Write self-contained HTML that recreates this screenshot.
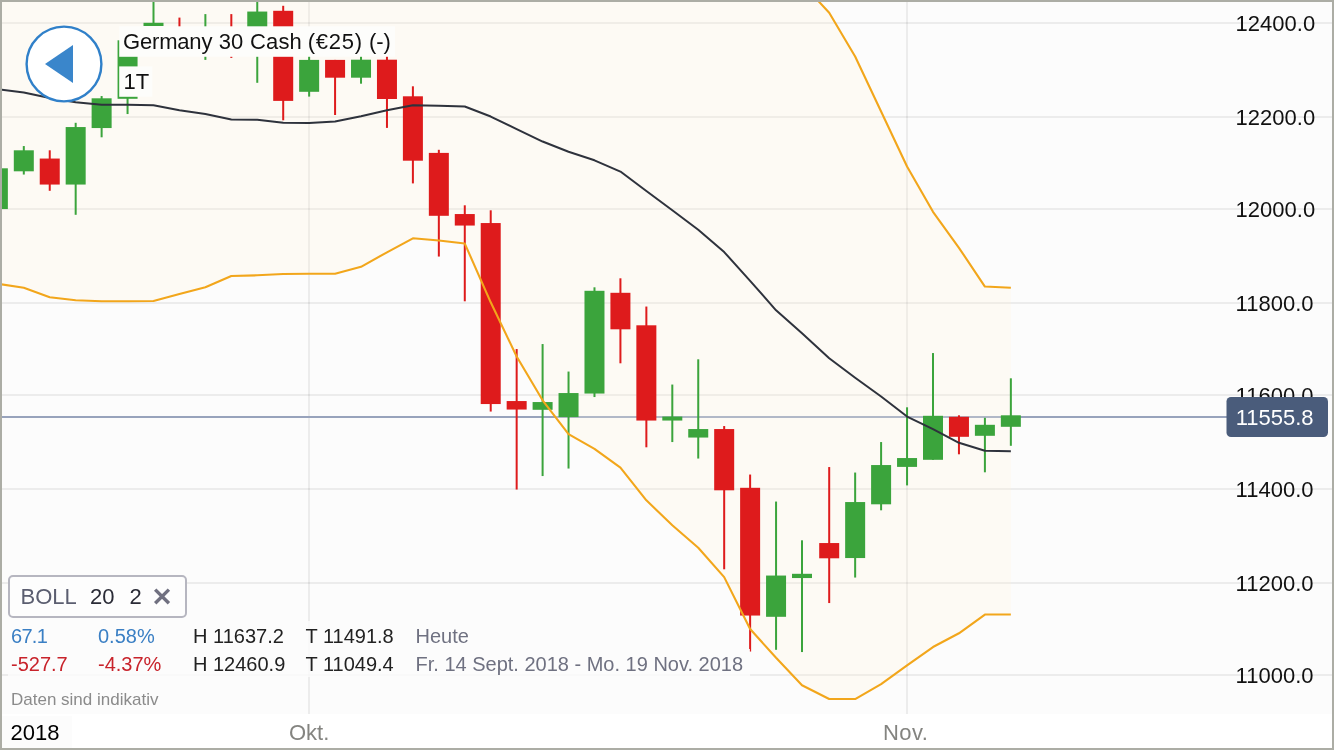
<!DOCTYPE html>
<html lang="de">
<head>
<meta charset="utf-8">
<title>Germany 30 Cash Chart</title>
<style>
html,body{margin:0;padding:0;background:#fff;}
body{width:1334px;height:750px;overflow:hidden;position:relative;font-family:"Liberation Sans",Arial,Helvetica,sans-serif;}
svg text{white-space:pre;}
</style>
</head>
<body>
<svg width="1334" height="750" viewBox="0 0 1334 750" style="position:absolute;left:0;top:0">
<rect x="0" y="0" width="1334" height="714" fill="#fcfcfc"/>
<rect x="0" y="714" width="1334" height="36" fill="#ffffff"/>
<clipPath id="plot"><rect x="0" y="0" width="1334" height="714"/></clipPath>
<g clip-path="url(#plot)">
<polygon points="-2.14,-59.70 23.80,-59.70 49.74,-59.70 75.68,-59.70 101.62,-59.70 127.56,-59.70 153.50,-59.70 179.44,-59.70 205.38,-59.70 231.32,-59.70 257.26,-59.70 283.20,-59.70 309.14,-59.70 335.08,-59.70 361.02,-59.70 386.96,-59.70 412.90,-59.70 438.84,-59.70 464.78,-59.70 490.72,-59.70 516.66,-59.70 542.60,-59.70 568.54,-59.70 594.48,-59.70 620.42,-59.70 646.36,-59.70 672.30,-59.70 698.24,-59.70 724.18,-59.70 750.12,-59.70 776.06,-59.70 802.00,-16.70 829.20,12.80 855.15,56.55 881.10,111.55 907.05,166.55 933.00,211.80 958.95,247.80 984.90,286.55 1010.85,287.80 1010.85,614.55 984.90,614.55 958.95,633.30 933.00,647.05 907.05,665.30 881.10,684.05 855.15,699.05 829.20,699.05 802.00,685.30 776.06,657.80 750.12,629.05 724.18,577.15 698.24,547.80 672.30,525.30 646.36,500.30 620.42,467.55 594.48,448.80 568.54,434.05 542.60,400.30 516.66,356.55 490.72,302.30 464.78,243.55 438.84,240.55 412.90,238.30 386.96,252.30 361.02,266.80 335.08,273.80 309.14,273.80 283.20,274.05 257.26,275.30 231.32,276.05 205.38,287.30 179.44,294.05 153.50,301.05 127.56,301.30 101.62,301.30 75.68,300.30 49.74,297.30 23.80,287.80 -2.14,283.80" fill="#fdfaf4"/>
<clipPath id="outband"><path clip-rule="evenodd" d="M-100 -100H1500V900H-100Z M-2.14,-59.70 L23.80,-59.70 L49.74,-59.70 L75.68,-59.70 L101.62,-59.70 L127.56,-59.70 L153.50,-59.70 L179.44,-59.70 L205.38,-59.70 L231.32,-59.70 L257.26,-59.70 L283.20,-59.70 L309.14,-59.70 L335.08,-59.70 L361.02,-59.70 L386.96,-59.70 L412.90,-59.70 L438.84,-59.70 L464.78,-59.70 L490.72,-59.70 L516.66,-59.70 L542.60,-59.70 L568.54,-59.70 L594.48,-59.70 L620.42,-59.70 L646.36,-59.70 L672.30,-59.70 L698.24,-59.70 L724.18,-59.70 L750.12,-59.70 L776.06,-59.70 L802.00,-16.70 L829.20,12.80 L855.15,56.55 L881.10,111.55 L907.05,166.55 L933.00,211.80 L958.95,247.80 L984.90,286.55 L1010.85,287.80 L1010.85,614.55 L984.90,614.55 L958.95,633.30 L933.00,647.05 L907.05,665.30 L881.10,684.05 L855.15,699.05 L829.20,699.05 L802.00,685.30 L776.06,657.80 L750.12,629.05 L724.18,577.15 L698.24,547.80 L672.30,525.30 L646.36,500.30 L620.42,467.55 L594.48,448.80 L568.54,434.05 L542.60,400.30 L516.66,356.55 L490.72,302.30 L464.78,243.55 L438.84,240.55 L412.90,238.30 L386.96,252.30 L361.02,266.80 L335.08,273.80 L309.14,273.80 L283.20,274.05 L257.26,275.30 L231.32,276.05 L205.38,287.30 L179.44,294.05 L153.50,301.05 L127.56,301.30 L101.62,301.30 L75.68,300.30 L49.74,297.30 L23.80,287.80 L-2.14,283.80Z"/></clipPath>
<clipPath id="inband"><polygon points="-2.14,-59.70 23.80,-59.70 49.74,-59.70 75.68,-59.70 101.62,-59.70 127.56,-59.70 153.50,-59.70 179.44,-59.70 205.38,-59.70 231.32,-59.70 257.26,-59.70 283.20,-59.70 309.14,-59.70 335.08,-59.70 361.02,-59.70 386.96,-59.70 412.90,-59.70 438.84,-59.70 464.78,-59.70 490.72,-59.70 516.66,-59.70 542.60,-59.70 568.54,-59.70 594.48,-59.70 620.42,-59.70 646.36,-59.70 672.30,-59.70 698.24,-59.70 724.18,-59.70 750.12,-59.70 776.06,-59.70 802.00,-16.70 829.20,12.80 855.15,56.55 881.10,111.55 907.05,166.55 933.00,211.80 958.95,247.80 984.90,286.55 1010.85,287.80 1010.85,614.55 984.90,614.55 958.95,633.30 933.00,647.05 907.05,665.30 881.10,684.05 855.15,699.05 829.20,699.05 802.00,685.30 776.06,657.80 750.12,629.05 724.18,577.15 698.24,547.80 672.30,525.30 646.36,500.30 620.42,467.55 594.48,448.80 568.54,434.05 542.60,400.30 516.66,356.55 490.72,302.30 464.78,243.55 438.84,240.55 412.90,238.30 386.96,252.30 361.02,266.80 335.08,273.80 309.14,273.80 283.20,274.05 257.26,275.30 231.32,276.05 205.38,287.30 179.44,294.05 153.50,301.05 127.56,301.30 101.62,301.30 75.68,300.30 49.74,297.30 23.80,287.80 -2.14,283.80"/></clipPath>
<rect x="0" y="22" width="1332" height="2" fill="#000000" fill-opacity="0.05"/>
<rect x="0" y="116" width="1332" height="2" fill="#000000" fill-opacity="0.05"/>
<rect x="0" y="208" width="1332" height="2" fill="#000000" fill-opacity="0.05"/>
<rect x="0" y="302" width="1332" height="2" fill="#000000" fill-opacity="0.05"/>
<rect x="0" y="394" width="1332" height="2" fill="#000000" fill-opacity="0.05"/>
<rect x="0" y="488" width="1332" height="2" fill="#000000" fill-opacity="0.05"/>
<rect x="0" y="582" width="1332" height="2" fill="#000000" fill-opacity="0.05"/>
<rect x="0" y="674" width="1332" height="2" fill="#000000" fill-opacity="0.05"/>
<rect x="308" y="0" width="2" height="714" fill="#000000" fill-opacity="0.05"/>
<rect x="906" y="0" width="2" height="714" fill="#000000" fill-opacity="0.05"/>
<g clip-path="url(#outband)">
<rect x="0" y="22" width="1332" height="2" fill="#000000" fill-opacity="0.01"/>
<rect x="0" y="116" width="1332" height="2" fill="#000000" fill-opacity="0.01"/>
<rect x="0" y="208" width="1332" height="2" fill="#000000" fill-opacity="0.01"/>
<rect x="0" y="302" width="1332" height="2" fill="#000000" fill-opacity="0.01"/>
<rect x="0" y="394" width="1332" height="2" fill="#000000" fill-opacity="0.01"/>
<rect x="0" y="488" width="1332" height="2" fill="#000000" fill-opacity="0.01"/>
<rect x="0" y="582" width="1332" height="2" fill="#000000" fill-opacity="0.01"/>
<rect x="0" y="674" width="1332" height="2" fill="#000000" fill-opacity="0.01"/>
<rect x="308" y="0" width="2" height="714" fill="#000000" fill-opacity="0.01"/>
<rect x="906" y="0" width="2" height="714" fill="#000000" fill-opacity="0.01"/>
</g>
<rect x="0" y="416" width="1231" height="2" fill="#98a3bc"/>
<rect x="0" y="416" width="1231" height="2" fill="#b1b8c7" clip-path="url(#inband)"/>
<rect x="-3.14" y="168.30" width="2" height="40.75" fill="#3ba43c"/>
<rect x="-12.14" y="168.30" width="20" height="40.75" fill="#3ba43c"/>
<rect x="22.80" y="146.05" width="2" height="28.50" fill="#3ba43c"/>
<rect x="13.80" y="150.30" width="20" height="21.00" fill="#3ba43c"/>
<rect x="48.74" y="150.30" width="2" height="40.50" fill="#de1b1c"/>
<rect x="39.74" y="158.55" width="20" height="26.00" fill="#de1b1c"/>
<rect x="74.68" y="122.80" width="2" height="92.00" fill="#3ba43c"/>
<rect x="65.68" y="127.05" width="20" height="57.50" fill="#3ba43c"/>
<rect x="100.62" y="96.05" width="2" height="41.25" fill="#3ba43c"/>
<rect x="91.62" y="98.30" width="20" height="29.75" fill="#3ba43c"/>
<rect x="126.56" y="32.30" width="2" height="81.75" fill="#3ba43c"/>
<rect x="117.56" y="40.30" width="20" height="58.50" fill="#3ba43c"/>
<rect x="152.50" y="-4.70" width="2" height="30.70" fill="#3ba43c"/>
<rect x="143.50" y="22.80" width="20" height="3.20" fill="#3ba43c"/>
<rect x="178.44" y="17.60" width="2" height="36.70" fill="#de1b1c"/>
<rect x="169.44" y="30.30" width="20" height="20.00" fill="#de1b1c"/>
<rect x="204.38" y="14.10" width="2" height="45.80" fill="#3ba43c"/>
<rect x="195.38" y="30.30" width="20" height="20.00" fill="#3ba43c"/>
<rect x="230.32" y="14.10" width="2" height="43.80" fill="#de1b1c"/>
<rect x="221.32" y="30.30" width="20" height="20.00" fill="#de1b1c"/>
<rect x="256.26" y="-4.70" width="2" height="87.50" fill="#3ba43c"/>
<rect x="247.26" y="11.55" width="20" height="38.75" fill="#3ba43c"/>
<rect x="282.20" y="5.80" width="2" height="114.50" fill="#de1b1c"/>
<rect x="273.20" y="10.80" width="20" height="90.10" fill="#de1b1c"/>
<rect x="308.14" y="50.30" width="2" height="46.30" fill="#3ba43c"/>
<rect x="299.14" y="59.90" width="20" height="31.90" fill="#3ba43c"/>
<rect x="334.08" y="59.90" width="2" height="55.10" fill="#de1b1c"/>
<rect x="325.08" y="59.90" width="20" height="17.80" fill="#de1b1c"/>
<rect x="360.02" y="50.30" width="2" height="33.40" fill="#3ba43c"/>
<rect x="351.02" y="59.70" width="20" height="18.00" fill="#3ba43c"/>
<rect x="385.96" y="50.30" width="2" height="77.60" fill="#de1b1c"/>
<rect x="376.96" y="59.70" width="20" height="39.30" fill="#de1b1c"/>
<rect x="411.90" y="86.30" width="2" height="97.10" fill="#de1b1c"/>
<rect x="402.90" y="96.30" width="20" height="64.40" fill="#de1b1c"/>
<rect x="437.84" y="149.80" width="2" height="106.75" fill="#de1b1c"/>
<rect x="428.84" y="152.90" width="20" height="62.90" fill="#de1b1c"/>
<rect x="463.78" y="205.30" width="2" height="96.00" fill="#de1b1c"/>
<rect x="454.78" y="214.05" width="20" height="11.50" fill="#de1b1c"/>
<rect x="489.72" y="210.30" width="2" height="201.25" fill="#de1b1c"/>
<rect x="480.72" y="223.05" width="20" height="181.00" fill="#de1b1c"/>
<rect x="515.66" y="349.05" width="2" height="140.50" fill="#de1b1c"/>
<rect x="506.66" y="401.05" width="20" height="8.50" fill="#de1b1c"/>
<rect x="541.60" y="344.05" width="2" height="132.00" fill="#3ba43c"/>
<rect x="532.60" y="402.05" width="20" height="7.75" fill="#3ba43c"/>
<rect x="567.54" y="371.55" width="2" height="97.00" fill="#3ba43c"/>
<rect x="558.54" y="393.05" width="20" height="24.00" fill="#3ba43c"/>
<rect x="593.48" y="287.30" width="2" height="109.75" fill="#3ba43c"/>
<rect x="584.48" y="290.80" width="20" height="102.75" fill="#3ba43c"/>
<rect x="619.42" y="278.30" width="2" height="85.00" fill="#de1b1c"/>
<rect x="610.42" y="292.80" width="20" height="36.50" fill="#de1b1c"/>
<rect x="645.36" y="306.55" width="2" height="140.75" fill="#de1b1c"/>
<rect x="636.36" y="325.30" width="20" height="95.25" fill="#de1b1c"/>
<rect x="671.30" y="384.55" width="2" height="57.50" fill="#3ba43c"/>
<rect x="662.30" y="416.55" width="20" height="4.00" fill="#3ba43c"/>
<rect x="697.24" y="359.30" width="2" height="99.25" fill="#3ba43c"/>
<rect x="688.24" y="429.05" width="20" height="8.50" fill="#3ba43c"/>
<rect x="723.18" y="426.05" width="2" height="143.25" fill="#de1b1c"/>
<rect x="714.18" y="429.05" width="20" height="61.25" fill="#de1b1c"/>
<rect x="749.12" y="474.55" width="2" height="177.00" fill="#de1b1c"/>
<rect x="740.12" y="487.80" width="20" height="127.75" fill="#de1b1c"/>
<rect x="775.06" y="501.55" width="2" height="148.25" fill="#3ba43c"/>
<rect x="766.06" y="575.55" width="20" height="41.25" fill="#3ba43c"/>
<rect x="801.00" y="540.30" width="2" height="111.75" fill="#3ba43c"/>
<rect x="792.00" y="573.80" width="20" height="4.25" fill="#3ba43c"/>
<rect x="828.20" y="467.05" width="2" height="136.00" fill="#de1b1c"/>
<rect x="819.20" y="543.05" width="20" height="15.25" fill="#de1b1c"/>
<rect x="854.15" y="472.55" width="2" height="105.00" fill="#3ba43c"/>
<rect x="845.15" y="502.05" width="20" height="56.00" fill="#3ba43c"/>
<rect x="880.10" y="442.05" width="2" height="68.25" fill="#3ba43c"/>
<rect x="871.10" y="465.05" width="20" height="39.25" fill="#3ba43c"/>
<rect x="906.05" y="407.30" width="2" height="78.10" fill="#3ba43c"/>
<rect x="897.05" y="458.05" width="20" height="8.85" fill="#3ba43c"/>
<rect x="932.00" y="353.05" width="2" height="106.75" fill="#3ba43c"/>
<rect x="923.00" y="415.80" width="20" height="44.00" fill="#3ba43c"/>
<rect x="957.95" y="415.30" width="2" height="39.00" fill="#de1b1c"/>
<rect x="948.95" y="416.80" width="20" height="20.00" fill="#de1b1c"/>
<rect x="983.90" y="417.80" width="2" height="54.50" fill="#3ba43c"/>
<rect x="974.90" y="424.80" width="20" height="11.00" fill="#3ba43c"/>
<rect x="1009.85" y="378.30" width="2" height="67.50" fill="#3ba43c"/>
<rect x="1000.85" y="415.30" width="20" height="11.50" fill="#3ba43c"/>
<polyline points="-2.14,-59.70 23.80,-59.70 49.74,-59.70 75.68,-59.70 101.62,-59.70 127.56,-59.70 153.50,-59.70 179.44,-59.70 205.38,-59.70 231.32,-59.70 257.26,-59.70 283.20,-59.70 309.14,-59.70 335.08,-59.70 361.02,-59.70 386.96,-59.70 412.90,-59.70 438.84,-59.70 464.78,-59.70 490.72,-59.70 516.66,-59.70 542.60,-59.70 568.54,-59.70 594.48,-59.70 620.42,-59.70 646.36,-59.70 672.30,-59.70 698.24,-59.70 724.18,-59.70 750.12,-59.70 776.06,-59.70 802.00,-16.70 829.20,12.80 855.15,56.55 881.10,111.55 907.05,166.55 933.00,211.80 958.95,247.80 984.90,286.55 1010.85,287.80" fill="none" stroke="#f2a61b" stroke-width="2.1" stroke-linejoin="round"/>
<polyline points="-2.14,283.80 23.80,287.80 49.74,297.30 75.68,300.30 101.62,301.30 127.56,301.30 153.50,301.05 179.44,294.05 205.38,287.30 231.32,276.05 257.26,275.30 283.20,274.05 309.14,273.80 335.08,273.80 361.02,266.80 386.96,252.30 412.90,238.30 438.84,240.55 464.78,243.55 490.72,302.30 516.66,356.55 542.60,400.30 568.54,434.05 594.48,448.80 620.42,467.55 646.36,500.30 672.30,525.30 698.24,547.80 724.18,577.15 750.12,629.05 776.06,657.80 802.00,685.30 829.20,699.05 855.15,699.05 881.10,684.05 907.05,665.30 933.00,647.05 958.95,633.30 984.90,614.55 1010.85,614.55" fill="none" stroke="#f2a61b" stroke-width="2.1" stroke-linejoin="round"/>
<polyline points="-2.14,89.20 23.80,92.50 49.74,98.10 75.68,102.30 101.62,104.80 127.56,104.80 153.50,105.30 179.44,110.30 205.38,114.05 231.32,119.50 257.26,119.70 283.20,122.70 309.14,122.90 335.08,121.50 361.02,116.30 386.96,110.30 412.90,105.30 438.84,105.80 464.78,106.55 490.72,116.55 516.66,129.05 542.60,141.55 568.54,151.80 594.48,160.30 620.42,171.55 646.36,191.05 672.30,210.30 698.24,229.80 724.18,252.05 750.12,280.80 776.06,310.30 802.00,333.30 829.20,358.30 855.15,377.80 881.10,396.55 907.05,416.55 933.00,429.05 958.95,442.80 984.90,450.80 1010.85,451.30" fill="none" stroke="#2e323c" stroke-width="2" stroke-linejoin="round"/>
</g>
<text x="1235.6" y="30.60" font-family="Liberation Sans, Arial, Helvetica, sans-serif" font-size="22" fill="#111">12400.0</text>
<text x="1235.6" y="124.60" font-family="Liberation Sans, Arial, Helvetica, sans-serif" font-size="22" fill="#111">12200.0</text>
<text x="1235.6" y="216.60" font-family="Liberation Sans, Arial, Helvetica, sans-serif" font-size="22" fill="#111">12000.0</text>
<text x="1235.6" y="310.60" font-family="Liberation Sans, Arial, Helvetica, sans-serif" font-size="22" fill="#111">11800.0</text>
<text x="1235.6" y="402.60" font-family="Liberation Sans, Arial, Helvetica, sans-serif" font-size="22" fill="#111">11600.0</text>
<text x="1235.6" y="496.60" font-family="Liberation Sans, Arial, Helvetica, sans-serif" font-size="22" fill="#111">11400.0</text>
<text x="1235.6" y="590.60" font-family="Liberation Sans, Arial, Helvetica, sans-serif" font-size="22" fill="#111">11200.0</text>
<text x="1235.6" y="682.60" font-family="Liberation Sans, Arial, Helvetica, sans-serif" font-size="22" fill="#111">11000.0</text>
<rect x="1226.5" y="397" width="101.5" height="40" rx="4.5" fill="#4a5c7b"/>
<text x="1313.6" y="424.8" font-family="Liberation Sans, Arial, Helvetica, sans-serif" font-size="22" text-anchor="end" fill="#ffffff">11555.8</text>
<circle cx="64" cy="64" r="37.4" fill="#ffffff" stroke="#3080c9" stroke-width="2.4"/>
<polygon points="45,64 73,45 73,83" fill="#3a86cb"/>
<rect x="119.2" y="26.3" width="275.8" height="30.5" fill="#fdfdfb"/>
<text y="48.9" font-family="Liberation Sans, Arial, Helvetica, sans-serif" font-size="22" fill="#111"><tspan x="123" letter-spacing="-0.18">Germany </tspan><tspan x="218.7">30 </tspan><tspan x="250" letter-spacing="0.16">Cash </tspan><tspan x="307.7" letter-spacing="0.73">(€25) </tspan><tspan x="369" letter-spacing="-0.1">(-)</tspan></text>
<rect x="119.2" y="66.4" width="33.1" height="30.4" fill="#fdfdfb"/>
 <text x="123.5" y="88.7" font-family="Liberation Sans, Arial, Helvetica, sans-serif" font-size="22" fill="#111">1T</text>
<rect x="8" y="621" width="464" height="28" fill="#fcfcfc" fill-opacity="0.85"/>
<rect x="8" y="649" width="742" height="28" fill="#fcfcfc" fill-opacity="0.85"/>
<rect x="8" y="677" width="160" height="36" fill="#fcfcfc" fill-opacity="0.85"/>
<rect x="9" y="576" width="177" height="41" rx="4" fill="#fdfdfd" stroke="#b6b6c0" stroke-width="2"/>
<text x="20.5" y="603.8" font-family="Liberation Sans, Arial, Helvetica, sans-serif" font-size="22" fill="#5b5e70">BOLL</text>
<text x="90" y="603.8" font-family="Liberation Sans, Arial, Helvetica, sans-serif" font-size="22" fill="#2a2b36">20</text>
 <text x="129.4" y="603.8" font-family="Liberation Sans, Arial, Helvetica, sans-serif" font-size="22" fill="#2a2b36">2</text>
<path d="M155.2 589.6 L168.9 603.3 M168.9 589.6 L155.2 603.3" stroke="#707080" stroke-width="3.4" fill="none"/>
<text x="11" y="642.6" font-family="Liberation Sans, Arial, Helvetica, sans-serif" font-size="20" letter-spacing="-0.7" fill="#3a7fc4">67.1</text>
<text x="98" y="642.6" font-family="Liberation Sans, Arial, Helvetica, sans-serif" font-size="20" fill="#3a7fc4">0.58%</text>
<text x="193" y="642.6" font-family="Liberation Sans, Arial, Helvetica, sans-serif" font-size="20" fill="#222">H 11637.2</text>
<text x="305.5" y="642.6" font-family="Liberation Sans, Arial, Helvetica, sans-serif" font-size="20" fill="#222">T 11491.8</text>
<text x="415.5" y="642.6" font-family="Liberation Sans, Arial, Helvetica, sans-serif" font-size="20" fill="#6f7181">Heute</text>
<text x="11" y="670.6" font-family="Liberation Sans, Arial, Helvetica, sans-serif" font-size="20" fill="#c8232b">-527.7</text>
<text x="98" y="670.6" font-family="Liberation Sans, Arial, Helvetica, sans-serif" font-size="20" fill="#c8232b">-4.37%</text>
<text x="193" y="670.6" font-family="Liberation Sans, Arial, Helvetica, sans-serif" font-size="20" fill="#222">H 12460.9</text>
<text x="305.5" y="670.6" font-family="Liberation Sans, Arial, Helvetica, sans-serif" font-size="20" fill="#222">T 11049.4</text>
<text x="415.5" y="670.6" font-family="Liberation Sans, Arial, Helvetica, sans-serif" font-size="20" fill="#6f7181">Fr. 14 Sept. 2018 - Mo. 19 Nov. 2018</text>
<text x="11" y="705.2" font-family="Liberation Sans, Arial, Helvetica, sans-serif" font-size="17" fill="#8b8b8b">Daten sind indikativ</text>
<rect x="2" y="716" width="70" height="32" fill="#fcfcfc"/>
<text x="10.6" y="740" font-family="Liberation Sans, Arial, Helvetica, sans-serif" font-size="22" fill="#000">2018</text>
<text x="289" y="739.8" font-family="Liberation Sans, Arial, Helvetica, sans-serif" font-size="22" letter-spacing="0" fill="#848480">Okt.</text>
<text x="883" y="739.8" font-family="Liberation Sans, Arial, Helvetica, sans-serif" font-size="22" letter-spacing="0.4" fill="#848480">Nov.</text>
<path d="M0 0H1334V750H0Z M2 2V748H1332V2Z" fill="#acada5" fill-rule="evenodd"/>
</svg>
</body>
</html>
